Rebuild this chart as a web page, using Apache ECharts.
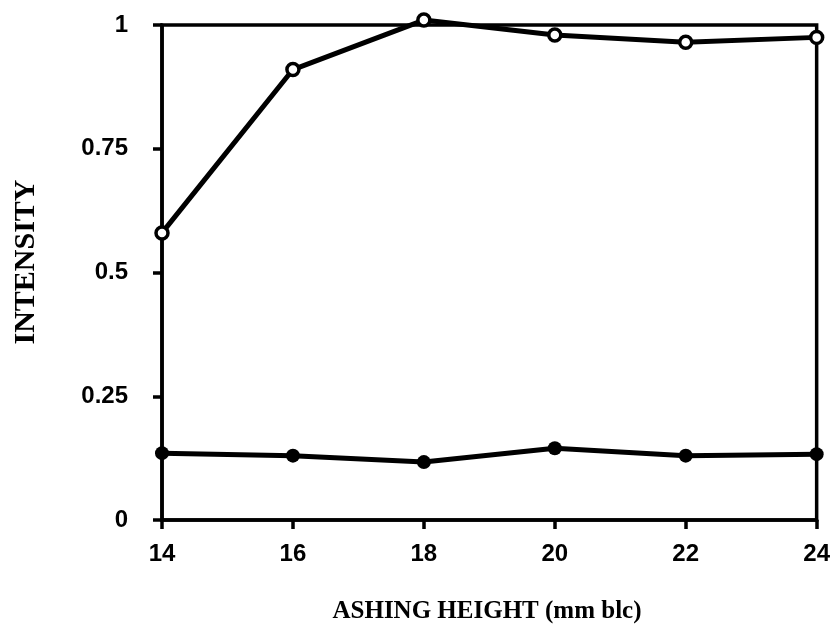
<!DOCTYPE html>
<html><head><meta charset="utf-8">
<script src="https://cdn.jsdelivr.net/npm/echarts@6/dist/echarts.min.js"></script>
<style>html,body{margin:0;padding:0;background:#fff}#c{width:833px;height:634px}</style>
</head><body><div id="c"></div>
<script>
const heights = [14, 16, 18, 20, 22, 24];
const openSeries = [0.58, 0.91, 1.01, 0.98, 0.965, 0.975];
const filledSeries = [0.135, 0.13, 0.117, 0.145, 0.13, 0.133];
const xTicks = [14, 16, 18, 20, 22, 24];
const yTicks = [0, 0.25, 0.5, 0.75, 1];
const xTitle = 'ASHING HEIGHT (mm blc)';
const yTitle = 'INTENSITY';

const chart = echarts.init(document.getElementById('c'));
const pair = arr => heights.map((h, i) => [h, arr[i]]);
const titleFont = {fontFamily: 'Liberation Serif', fontWeight: 'bold', fill: '#000', textAlign: 'center', textVerticalAlign: 'middle', x: 0, y: 0};
chart.setOption({
  animation: false,
  backgroundColor: '#fff',
  grid: {left: 162, right: 15, top: 25, bottom: 114, show: true, borderColor: '#000', borderWidth: 3.5},
  graphic: [
    {type: 'text', position: [487, 612],
     style: Object.assign({text: xTitle, fontSize: 25}, titleFont)},
    {type: 'text', position: [26, 262], rotation: Math.PI / 2,
     style: Object.assign({text: yTitle, fontSize: 30}, titleFont)}
  ],
  xAxis: {
    type: 'value', min: 14, max: 24, interval: 2,
    axisLine: {lineStyle: {color: '#000', width: 3.5}},
    axisTick: {length: 9, lineStyle: {color: '#000', width: 3.5}},
    axisLabel: {fontFamily: 'Liberation Sans', fontWeight: 'bold', fontSize: 24, color: '#000', margin: 22},
    splitLine: {show: false}
  },
  yAxis: {
    type: 'value', min: 0, max: 1, interval: 0.25,
    axisLine: {lineStyle: {color: '#000', width: 3.5}},
    axisTick: {length: 9, lineStyle: {color: '#000', width: 3.5}},
    axisLabel: {fontFamily: 'Liberation Sans', fontWeight: 'bold', fontSize: 24, color: '#000', margin: 34},
    splitLine: {show: false}
  },
  series: [
    {type: 'line', data: pair(openSeries), clip: false, symbol: 'circle', symbolSize: 12,
     lineStyle: {color: '#000', width: 5}, itemStyle: {color: '#fff', borderColor: '#000', borderWidth: 3.5}},
    {type: 'line', data: pair(filledSeries), clip: false, symbol: 'circle', symbolSize: 14,
     lineStyle: {color: '#000', width: 5}, itemStyle: {color: '#000', borderColor: '#000', borderWidth: 0}}
  ]
});
</script></body></html>
